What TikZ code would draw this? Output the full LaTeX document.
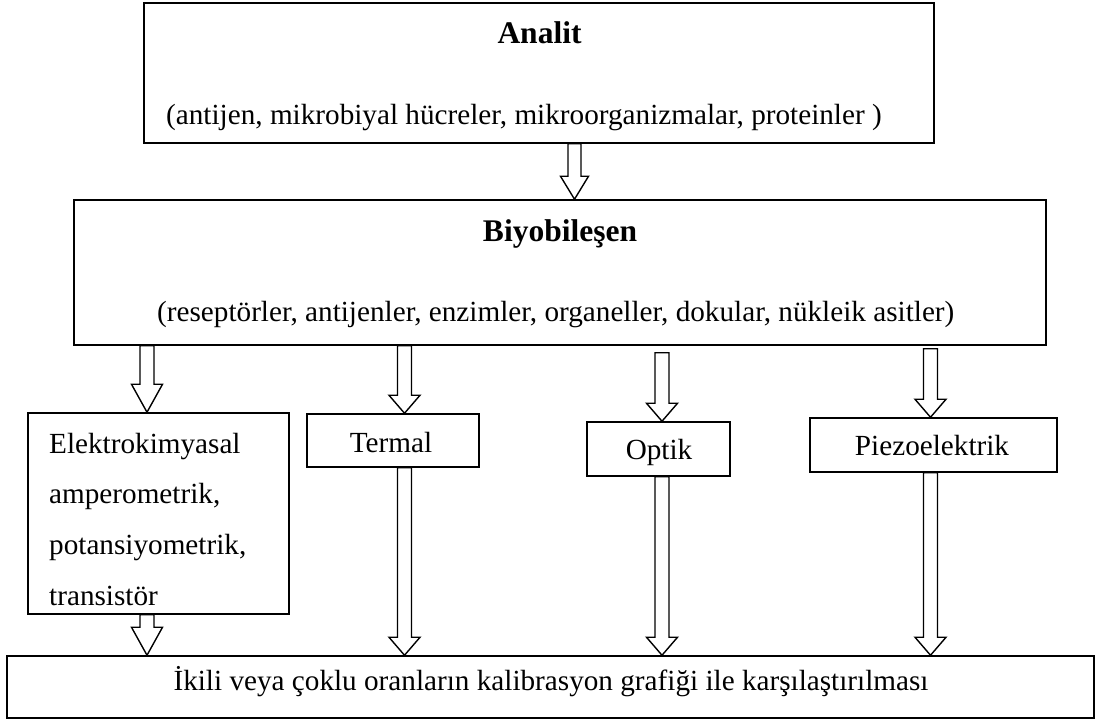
\documentclass[tikz,border=0pt]{standalone}
\usepackage{fontspec}
\setmainfont{Liberation Serif}
\usetikzlibrary{calc}
\tikzset{
  box/.style={draw=black, line width=1.5pt, rectangle, inner sep=0pt, fill=white},
  txt/.style={inner sep=0pt, font=\fontsize{29.2}{35}\selectfont},
  ttl/.style={inner sep=0pt, font=\fontsize{31.5}{38}\selectfont\bfseries},
  barrow/.style n args={3}{draw=black, fill=white, line width=1.4pt, line join=miter,
    to path={let \p1=(\tikztostart), \p2=(\tikztotarget) in
      (\x1-#1,\y1) -- (\x1-#1,\y2+#3) -- (\x1-#2,\y2+#3) -- (\x1,\y2)
      -- (\x1+#2,\y2+#3) -- (\x1+#1,\y2+#3) -- (\x1+#1,\y1) -- cycle}},
  longhead/.style={barrow={7pt}{15.5pt}{28pt}},
  flathead/.style={barrow={7pt}{15.5pt}{18pt}}
}
\begin{document}
\begin{tikzpicture}[x=1pt,y=-1pt]
\useasboundingbox[fill=white] (0,0) rectangle (1097,720);

% boxes
\node[box, minimum width=790pt, minimum height=140pt] (analit) at (539,73) {};
\node[box, minimum width=972pt, minimum height=145pt] (bio) at (560,272.5) {};
\node[box, minimum width=261pt, minimum height=201pt] (el) at (158.5,513.5) {};
\node[box, minimum width=172pt, minimum height=53pt] (term) at (393,440.5) {};
\node[box, minimum width=143pt, minimum height=54pt] (opt) at (658.5,449) {};
\node[box, minimum width=247pt, minimum height=54pt] (piezo) at (933.5,445) {};
\node[box, minimum width=1087pt, minimum height=62pt] (calib) at (550.5,687) {};

% texts
\node[ttl, anchor=base] (analitT) at (539.5,43) {Analit};
\node[txt, anchor=base west] (analitS) at (166,124) {(antijen, mikrobiyal hücreler, mikroorganizmalar, proteinler )};
\node[ttl, anchor=base] (bioT) at (560,241) {Biyobileşen};
\node[txt, anchor=base west] (bioS) at (157,321) {(reseptörler, antijenler, enzimler, organeller, dokular, nükleik asitler)};
\node[txt, anchor=base west] (el1) at (49,453) {Elektrokimyasal};
\node[txt, anchor=base west] (el2) at (49,503) {amperometrik,};
\node[txt, anchor=base west] (el3) at (49,554) {potansiyometrik,};
\node[txt, anchor=base west] (el4) at (49,605) {transistör};
\node[txt, anchor=base] (termT) at (391,452) {Termal};
\node[txt, anchor=base] (optT) at (659,459) {Optik};
\node[txt, anchor=base] (piezoT) at (932,455) {Piezoelektrik};
\node[txt, anchor=base] (calibT) at (551,690) {İkili veya çoklu oranların kalibrasyon grafiği ile karşılaştırılması};

% arrow columns
\coordinate (xm) at (574.5,0);
\coordinate (xa) at (147,0);
\coordinate (xb) at (404.5,0);
\coordinate (xc) at (662,0);
\coordinate (xd) at (930.5,0);

\draw[barrow={6.5pt}{14pt}{23pt}] (analit.south -| xm) to (bio.north -| xm);
\draw[longhead] (bio.south -| xa) to (el.north -| xa);
\draw[flathead] (bio.south -| xb) to (term.north -| xb);
\draw[flathead] ([yshift=-7pt]bio.south -| xc) to (opt.north -| xc);
\draw[flathead] ([yshift=-3pt]bio.south -| xd) to (piezo.north -| xd);
\draw[longhead] (el.south -| xa) to (calib.north -| xa);
\draw[flathead] (term.south -| xb) to (calib.north -| xb);
\draw[flathead] (opt.south -| xc) to (calib.north -| xc);
\draw[flathead] (piezo.south -| xd) to (calib.north -| xd);
\end{tikzpicture}
\end{document}
